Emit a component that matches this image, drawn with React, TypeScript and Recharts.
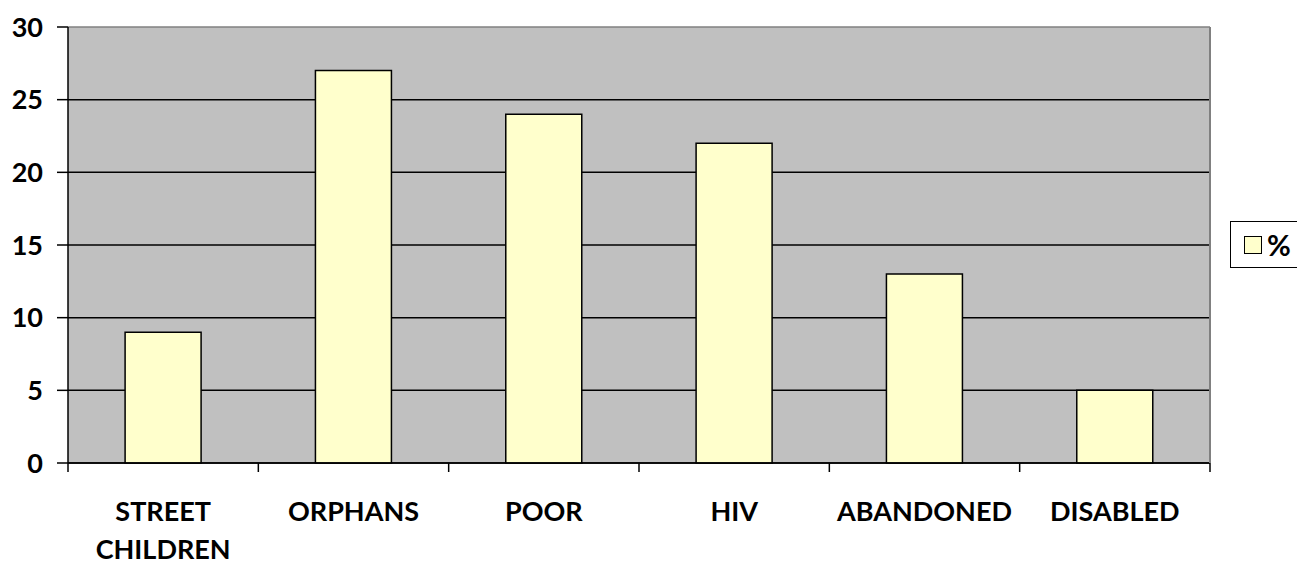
import { Bar, BarChart, CartesianGrid, Legend, XAxis, YAxis } from "recharts";

const categories = ["STREET CHILDREN", "ORPHANS", "POOR", "HIV", "ABANDONED", "DISABLED"];
const percent = [9, 27, 24, 22, 13, 5];
const yTicks = [0, 5, 10, 15, 20, 25, 30];
const seriesName = "%";

const data = categories.map((name, i) => ({ name, value: percent[i] }));

const FONT = "Lato, 'Open Sans', sans-serif";
const WEIGHT = 700;
const PLOT_BG = "#C0C0C0";
const BAR_FILL = "#FFFFCC";
const BORDER_GRAY = "#808080";

// category label split on spaces; tick marks sit on the band edges
function CategoryTick(props: any) {
  const { x, y, payload, index, visibleTicksCount } = props;
  const half = payload?.offset ?? 0;
  const words = String(payload.value).split(" ");
  const isLast = index === visibleTicksCount - 1;
  return (
    <g>
      <line x1={x - half} x2={x - half} y1={y} y2={y + 9} stroke="#000" strokeWidth={1.5} />
      {isLast && <line x1={x + half} x2={x + half} y1={y} y2={y + 9} stroke="#000" strokeWidth={1.5} />}
      <text
        x={x}
        y={y + 58}
        textAnchor="middle"
        fill="#000"
        fontFamily={FONT}
        fontWeight={WEIGHT}
        fontSize={27}
      >
        {words.map((w, i) => (
          <tspan key={i} x={x} dy={i === 0 ? 0 : 38}>
            {w}
          </tspan>
        ))}
      </text>
    </g>
  );
}

function GridLine(props: any) {
  const { x1, y1, x2, y2, y } = props;
  const isTop = typeof y === "number" && Math.abs(y1 - y) < 1;
  return (
    <line
      x1={x1}
      y1={y1}
      x2={x2}
      y2={y2}
      stroke={isTop ? BORDER_GRAY : "#000"}
      strokeWidth={1.5}
    />
  );
}

function LegendBox() {
  return (
    <div
      style={{
        width: 80,
        height: 47,
        boxSizing: "border-box",
        border: "1.5px solid #000",
        background: "#fff",
        display: "flex",
        alignItems: "center",
        paddingLeft: 13,
        fontFamily: FONT,
        fontWeight: WEIGHT,
        fontSize: 29,
        color: "#000",
      }}
    >
      <span
        style={{
          display: "inline-block",
          width: 16,
          height: 16,
          border: "1.5px solid #000",
          background: BAR_FILL,
          marginRight: 5,
        }}
      />
      {seriesName}
    </div>
  );
}

export default function App() {
  return (
    <div style={{ position: "absolute", left: 0, top: 0, width: 1297, height: 566, background: "#fff", overflow: "hidden" }}>
      <BarChart
        width={1297}
        height={566}
        data={data}
        margin={{ top: 27, right: 0, bottom: 0, left: 0 }}
        barCategoryGap="30%"
      >
        <CartesianGrid
          vertical={false}
          fill={PLOT_BG}
          fillOpacity={1}
          horizontal={(p: any) => <GridLine key={p.key} {...p} />}
        />
        <XAxis
          dataKey="name"
          height={103}
          interval={0}
          tickLine={false}
          tickSize={0}
          tickMargin={0}
          axisLine={{ stroke: "#000", strokeWidth: 1.5 }}
          tick={(p: any) => <CategoryTick {...p} />}
        />
        <YAxis
          width={68}
          domain={[0, 30]}
          ticks={yTicks}
          interval={0}
          tickSize={11}
          tickMargin={14}
          axisLine={{ stroke: "#000", strokeWidth: 1.5 }}
          tickLine={{ stroke: "#000", strokeWidth: 1.5 }}
          tick={{ fill: "#000", fontFamily: FONT, fontWeight: WEIGHT, fontSize: 27 }}
        />
        <YAxis
          yAxisId="frame"
          orientation="right"
          width={87}
          tick={false}
          tickLine={false}
          axisLine={{ stroke: BORDER_GRAY, strokeWidth: 2 }}
        />
        <Legend
          layout="horizontal"
          verticalAlign="middle"
          align="center"
          content={() => <LegendBox />}
          wrapperStyle={{ left: 1230, top: 221, width: 80 }}
        />
        <Bar
          dataKey="value"
          name={seriesName}
          fill={BAR_FILL}
          stroke="#000"
          strokeWidth={1.5}
          isAnimationActive={false}
        />
      </BarChart>
    </div>
  );
}
